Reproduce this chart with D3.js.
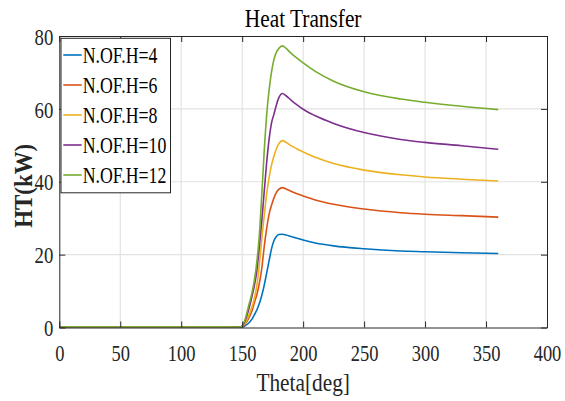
<!DOCTYPE html>
<html>
<head>
<meta charset="utf-8">
<script src="https://cdn.jsdelivr.net/npm/d3@7"></script>
<style>
  body { margin: 0; background: #fff; }
  svg { display: block; }
  svg text { font-family: "Liberation Serif", "Times New Roman", Times, serif; }
</style>
</head>
<body>
<div id="chart"></div>
<script>
// crank angle samples and heat transfer (kW) for each number of holes
const theta = [0, 50, 100, 140, 148, 150, 152, 155, 158, 160, 162, 164, 166, 168, 170, 172, 174, 176, 178, 180, 183, 186, 190, 195, 200, 210, 225, 250, 280, 300, 330, 360];
const ht4  = [0.2, 0.2, 0.2, 0.2, 0.1, 0.1, 0.4, 1.1, 2.3, 3.5, 4.8, 6.5, 8.7, 11.5, 14.8, 18.2, 21.5, 23.8, 25, 25.5, 25.6, 25.4, 25.0, 24.5, 24.0, 23.2, 22.4, 21.6, 21.0, 20.8, 20.5, 20.3];
const ht6  = [0.2, 0.2, 0.2, 0.2, 0.1, 0.2, 0.8, 2.3, 4.5, 6.8, 9, 12, 16, 22, 27, 31, 33.5, 35.5, 37, 37.9, 38.4, 38.0, 37.4, 36.7, 36.1, 35.0, 33.8, 32.5, 31.5, 31.1, 30.7, 30.3];
const ht8  = [0.2, 0.2, 0.2, 0.2, 0.1, 0.3, 1, 3, 5.6, 8, 11.5, 17, 24, 30.5, 36.5, 41, 44.5, 47, 49, 50.4, 51.3, 50.8, 49.9, 49.0, 48.2, 46.7, 45.0, 43.2, 41.9, 41.3, 40.7, 40.2];
const ht10 = [0.2, 0.2, 0.2, 0.2, 0.1, 0.4, 1.5, 4.5, 8.5, 11.5, 15.5, 22, 29, 37, 45, 51.5, 56, 58.5, 61, 63, 64.2, 63.6, 62.4, 61.1, 59.9, 58.1, 56.0, 53.5, 51.6, 50.8, 49.9, 48.9];
const ht12 = [0.2, 0.2, 0.2, 0.2, 0.1, 0.5, 1.8, 5.6, 9.5, 13, 18, 25, 36, 48, 58, 65, 70, 73.5, 75.5, 76.6, 77.3, 76.6, 75.3, 73.9, 72.6, 70.3, 67.6, 64.7, 62.7, 61.8, 60.7, 59.8];

const labels = ['N.OF.H=4', 'N.OF.H=6', 'N.OF.H=8', 'N.OF.H=10', 'N.OF.H=12'];
const colors = ['#0072BD', '#D95319', '#EDB120', '#7E2F8E', '#77AC30'];
const xTicks = [0, 50, 100, 150, 200, 250, 300, 350, 400];
const yTicks = [0, 20, 40, 60, 80];

const series = [ht4, ht6, ht8, ht10, ht12].map((vals, i) => ({
  name: labels[i],
  color: colors[i],
  points: theta.map((t, j) => ({ t, v: vals[j] }))
}));

const width = 565;
const height = 401;
const margin = { top: 36, right: 18, bottom: 73.5, left: 59.3 };

const svg = d3.select('#chart')
  .append('svg')
  .attr('width', width)
  .attr('height', height);

const x = d3.scaleLinear().domain([0, 400]).range([margin.left, width - margin.right]);
const y = d3.scaleLinear().domain([0, 80]).range([height - margin.bottom, margin.top]);

// squeeze text along its direction (reference font is narrow)
function squeeze(sel, k) {
  sel.each(function () {
    const w = this.getComputedTextLength();
    d3.select(this).attr('textLength', w * k).attr('lengthAdjust', 'spacingAndGlyphs');
  });
}

// grid
const grid = svg.append('g').attr('stroke', '#e2e2e2').attr('stroke-width', 1.2);
grid.selectAll('.gx')
  .data(xTicks.slice(1, -1))
  .join('line')
  .attr('x1', (d) => x(d)).attr('x2', (d) => x(d))
  .attr('y1', y(0)).attr('y2', y(80));
grid.selectAll('.gy')
  .data(yTicks.slice(1, -1))
  .join('line')
  .attr('x1', x(0)).attr('x2', x(400))
  .attr('y1', (d) => y(d)).attr('y2', (d) => y(d));

// curves
const line = d3.line()
  .x((d) => x(d.t))
  .y((d) => y(d.v))
  .curve(d3.curveMonotoneX);

svg.append('g')
  .selectAll('path')
  .data(series)
  .join('path')
  .attr('fill', 'none')
  .attr('stroke', (d) => d.color)
  .attr('stroke-width', 1.6)
  .attr('d', (d) => line(d.points));

// axes (ticks inside, box on)
const axisColor = '#262626';
const fontSize = 24;

const gx = svg.append('g')
  .attr('transform', `translate(0,${y(0)})`)
  .call(d3.axisBottom(x).tickValues(xTicks).tickSize(-6).tickSizeOuter(0));
gx.selectAll('text')
  .attr('y', 33).attr('dy', 0)
  .attr('font-size', fontSize)
  .attr('font-family', 'Liberation Serif')
  .attr('fill', axisColor);

const gy = svg.append('g')
  .attr('transform', `translate(${x(0)},0)`)
  .call(d3.axisLeft(y).tickValues(yTicks).tickSize(-6).tickSizeOuter(0).tickPadding(6));
gy.selectAll('text')
  .attr('dy', '0.34em')
  .attr('font-size', fontSize)
  .attr('font-family', 'Liberation Serif')
  .attr('fill', axisColor);

svg.append('g')
  .attr('transform', `translate(0,${y(80)})`)
  .call(d3.axisTop(x).tickValues(xTicks).tickSize(-6).tickSizeOuter(0).tickFormat(''));
svg.append('g')
  .attr('transform', `translate(${x(400)},0)`)
  .call(d3.axisRight(y).tickValues(yTicks).tickSize(-6).tickSizeOuter(0).tickFormat(''));

svg.selectAll('.domain, .tick line').attr('stroke', axisColor);

squeeze(gx.selectAll('text'), 0.77);
squeeze(gy.selectAll('text'), 0.78);

// title and labels
const title = svg.append('text')
  .attr('x', (x(0) + x(400)) / 2)
  .attr('y', 26.7)
  .attr('text-anchor', 'middle')
  .attr('font-size', 26)
  .attr('fill', '#000')
  .text('Heat Transfer');
squeeze(title, 0.82);

const xLabel = svg.append('text')
  .attr('x', (x(0) + x(400)) / 2)
  .attr('y', 391)
  .attr('text-anchor', 'middle')
  .attr('font-size', 26)
  .attr('fill', axisColor)
  .text('Theta[deg]');
squeeze(xLabel, 0.82);

const yLabel = svg.append('text')
  .attr('transform', `translate(32,${(y(0) + y(80)) / 2 + 4}) rotate(-90)`)
  .attr('text-anchor', 'middle')
  .attr('font-size', 26)
  .attr('font-weight', 'bold')
  .attr('fill', axisColor)
  .attr('textLength', 84)
  .attr('lengthAdjust', 'spacingAndGlyphs')
  .text('HT(kW)');

// legend
const legend = svg.append('g').attr('transform', 'translate(61,38.3)');
legend.append('rect')
  .attr('width', 109.5)
  .attr('height', 154.5)
  .attr('fill', '#fff')
  .attr('stroke', axisColor)
  .attr('stroke-width', 1);

const items = legend.selectAll('.item')
  .data(series)
  .join('g')
  .attr('transform', (d, i) => `translate(0,${16.7 + i * 30})`);
items.append('line')
  .attr('x1', 2.3).attr('x2', 20.7)
  .attr('stroke', (d) => d.color)
  .attr('stroke-width', 1.6);
const itemText = items.append('text')
  .attr('x', 21.7)
  .attr('dy', '0.34em')
  .attr('font-size', 24)
  .attr('fill', '#000')
  .text((d) => d.name);
squeeze(itemText, 0.74);
</script>
</body>
</html>
